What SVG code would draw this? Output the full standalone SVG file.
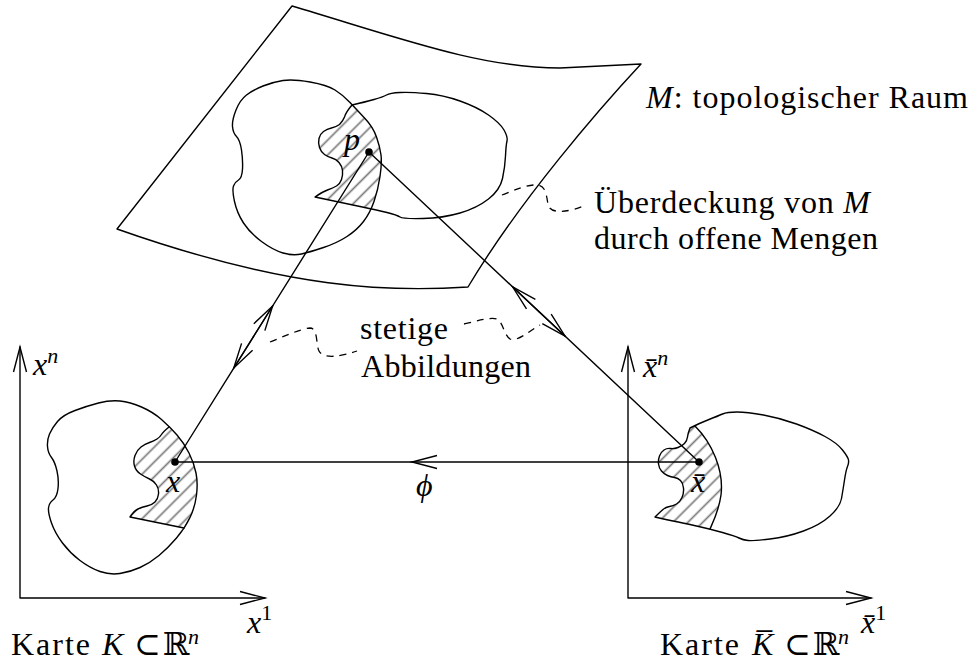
<svg xmlns="http://www.w3.org/2000/svg" width="974" height="662" viewBox="0 0 974 662">
<style>
.ln{fill:none;stroke:#000;stroke-width:1.4;stroke-linejoin:round;stroke-linecap:round}
.dash{fill:none;stroke:#000;stroke-width:1.3;stroke-dasharray:7 6}
.t{font-family:"Liberation Serif","DejaVu Serif",serif;font-size:32px;fill:#000}
.i{font-style:italic}
.sup{font-size:22px}
.dot{fill:#000}
</style>
<defs>
<marker id="arr" markerUnits="userSpaceOnUse" viewBox="-27 -8 29 16" refX="0" refY="0" markerWidth="29" markerHeight="16" orient="auto-start-reverse" overflow="visible">
<path d="M-25,-6.5 L0,0 L-25,6.5" fill="none" stroke="#000" stroke-width="1.4"/>
</marker>
<pattern id="hatch" patternUnits="userSpaceOnUse" width="10.5" height="10.5" patternTransform="rotate(-45)">
<line x1="0" y1="5.25" x2="10.5" y2="5.25" stroke="#7a7a7a" stroke-width="1.7"/>
</pattern>
<path id="setL" d="M283,80.5 Q293,79 310,82 Q327,85 335,90 Q343,95 350,102.5 Q357,110 365,118.5 Q373,127 376.5,137 Q380,147 381,155 Q382,163 380,176.5 Q378,190 374,201.5 Q370,213 363.5,221.5 Q357,230 347,236.5 Q337,243 323.5,247.5 Q310,252 301.5,254 Q293,256 283,253 Q273,250 261.5,241.5 Q250,233 243.5,223 Q237,213 234.5,201.5 Q232,190 233.5,186 Q235,182 238.5,180 Q242,178 242.5,169 Q243,160 241.5,150 Q240,140 236.5,136.5 Q233,133 232.5,126.5 Q232,120 236,110 Q240,100 246.5,95 Q253,90 263,86 Q273,82 283,80.5 Z"/>
<path id="setR" d="M352,105 Q365,102 374,99.5 Q383,97 386.5,95 Q390,93 400,92.5 Q410,92 426.5,93.5 Q443,95 460,101 Q477,107 488.5,115 Q500,123 504,130 Q508,137 507,141 Q506,145 505.5,156 Q505,167 502.5,178.5 Q500,190 488.5,199 Q477,208 460,213 Q443,218 423,218.5 Q403,219 400,217 Q397,215 387,212.5 Q377,210 360,206.5 Q343,203 315,197 Q322,192 327.5,190 Q333,188 336.5,186 Q340,184 341.5,179.5 Q343,175 342.5,170.5 Q342,166 339,162.5 Q336,159 332,158 Q328,157 324.5,154.5 Q321,152 319.5,147.5 Q318,143 319,138.5 Q320,134 323.5,131.5 Q327,129 331.5,128 Q336,127 339.5,124.5 Q343,121 344.5,117 Q346,112 352,105 Z"/>
<path id="blobK" d="M120,401 Q130,402 141.5,407 Q153,412 161.5,419.5 Q170,427 177,435 Q184,443 189,453 Q194,463 196,473 Q198,483 196.5,495 Q195,507 190,517.5 Q185,528 176.5,538 Q168,548 159,555.5 Q150,563 140,567.5 Q130,572 120,573.5 Q110,575 100,571.5 Q90,568 80,560.5 Q70,553 62.5,543 Q55,533 51.5,523 Q48,513 48.5,508 Q49,503 53,500 Q57,497 58,488.5 Q59,480 57,471 Q55,462 51.5,457.5 Q48,453 47.5,446.5 Q47,440 49.5,434 Q52,428 57.5,421.5 Q63,415 75,410.5 Q87,406 98.5,403 Q110,400 120,401 Z"/>
<path id="blobKb" d="M690,428 Q700,423 709,419.5 Q718,416 722.5,414 Q727,412 737,412 Q747,412 763.5,415 Q780,418 796.5,424 Q813,430 825,436.5 Q837,443 842.5,450 Q848,457 848.5,460 Q849,463 847.5,466.5 Q846,470 844.5,480 Q843,490 841.5,498.5 Q840,507 830,516 Q820,525 803.5,531 Q787,537 770,539 Q753,541 748,540.5 Q743,540 739,538 Q735,536 722.5,532.5 Q710,529 696.5,526 Q683,523 673,521 Q663,519 655,517 Q660,512 663,509.5 Q666,507 669.5,506.5 Q673,506 676.5,504 Q680,502 682,497.5 Q684,493 683.5,488 Q683,483 680.5,480.5 Q678,478 674.5,477.5 Q671,477 667.5,475.5 Q664,474 661.5,471 Q659,468 658.5,464 Q658,460 659.5,456 Q661,452 664,450 Q667,448 670.5,448.5 Q674,449 678,447.5 Q682,446 684.5,443.5 Q687,441 687.5,437 Q688,433 690,428 Z"/>
<clipPath id="clipL"><use href="#setL"/></clipPath>
<clipPath id="clipK"><use href="#blobK"/></clipPath>
<clipPath id="clipKb"><use href="#blobKb"/></clipPath>
</defs>
<rect width="974" height="662" fill="#fff"/>

<g id="surface-M">
<path class="ln" d="M292,6 C400,38 480,68 560,68 L641,64 C600,108 520,200 468,287 C390,292 290,290 117,229 L292,6 Z"/>
<text class="t" x="646" y="108" textLength="322"><tspan class="i">M</tspan>: topologischer Raum</text>
</g>

<g id="open-sets-M">
<use href="#setR" fill="url(#hatch)" clip-path="url(#clipL)"/>
<use href="#setL" class="ln"/>
<use href="#setR" class="ln"/>
<text class="t" x="594" y="213" textLength="276">Überdeckung von <tspan class="i">M</tspan></text>
<text class="t" x="594" y="249" textLength="284">durch offene Mengen</text>
</g>

<g id="chart-K">
<path d="M169,427 Q163,432 161.5,434.5 Q160,437 157,439 Q154,441 149.5,442.5 Q145,444 141,447 Q137,450 135,455.5 Q133,461 134.5,466 Q136,471 140.5,474 Q145,477 149.5,479 Q154,481 156.5,485 Q159,489 158.5,494 Q158,499 155,502 Q152,505 147,506 Q142,507 138,509 Q134,511 130,517 Q155,522 184,528 L200,530 L210,420 Z" fill="url(#hatch)" clip-path="url(#clipK)"/>
<use href="#blobK" class="ln"/>
<path class="ln" d="M169,427 Q163,432 161.5,434.5 Q160,437 157,439 Q154,441 149.5,442.5 Q145,444 141,447 Q137,450 135,455.5 Q133,461 134.5,466 Q136,471 140.5,474 Q145,477 149.5,479 Q154,481 156.5,485 Q159,489 158.5,494 Q158,499 155,502 Q152,505 147,506 Q142,507 138,509 Q134,511 130,517 Q155,522 184,528"/>
<path class="ln" d="M20,347 L20,598 L265,598" marker-start="url(#arr)" marker-end="url(#arr)"/>
<text class="t i" x="33" y="375">x<tspan class="sup" dy="-12">n</tspan></text>
<text class="t i" x="247" y="633">x<tspan class="sup" dy="-13" font-style="normal">1</tspan></text>
<text class="t" y="655"><tspan x="11" textLength="79">Karte</tspan><tspan x="102" class="i">K</tspan><tspan x="134">⊂</tspan><tspan x="163">ℝ</tspan><tspan x="188" dy="-11" class="i sup">n</tspan></text>
</g>

<g id="chart-Kbar">
<path d="M690,428 L695,426 C712,443 724,470 721,495 C719,510 714,520 710,529 L655,517 Q660,512 663,509.5 Q666,507 669.5,506.5 Q673,506 676.5,504 Q680,502 682,497.5 Q684,493 683.5,488 Q683,483 680.5,480.5 Q678,478 674.5,477.5 Q671,477 667.5,475.5 Q664,474 661.5,471 Q659,468 658.5,464 Q658,460 659.5,456 Q661,452 664,450 Q667,448 670.5,448.5 Q674,449 678,447.5 Q682,446 684.5,443.5 Q687,441 687.5,437 Q688,433 690,428 Z" fill="url(#hatch)" clip-path="url(#clipKb)"/>
<use href="#blobKb" class="ln"/>
<path class="ln" d="M695,426 C712,443 724,470 721,495 C719,510 714,520 710,529"/>
<path class="ln" d="M628,347 L628,598 L871,598" marker-start="url(#arr)" marker-end="url(#arr)"/>
<text class="t i" x="643" y="377">x̄<tspan class="sup" dy="-12">n</tspan></text>
<text class="t i" x="861" y="633">x̄<tspan class="sup" dy="-13" font-style="normal">1</tspan></text>
<text class="t" y="655"><tspan x="660" textLength="79">Karte</tspan><tspan x="752" class="i">K̅</tspan><tspan x="784">⊂</tspan><tspan x="813">ℝ</tspan><tspan x="838" dy="-11" class="i sup">n</tspan></text>
</g>

<g id="connectors">
<path class="ln" d="M175,462 L369,152"/>
<path class="ln" d="M253.2,337 L272.6,306" marker-end="url(#arr)"/>
<path class="ln" d="M253.2,337 L233.8,368" marker-end="url(#arr)"/>
<path class="ln" d="M369,152 L699,462"/>
<path class="ln" d="M538.8,311.5 L512.7,287" marker-end="url(#arr)"/>
<path class="ln" d="M538.8,311.5 L565,336" marker-end="url(#arr)"/>
<path class="ln" d="M699,462 L412,462" marker-end="url(#arr)"/>
<path class="ln" d="M412,462 L175,462"/>
<path class="dash" d="M502,195 C515,190 528,184 538,185 C548,187 546,200 549,207 C553,214 570,212 586,205"/>
<path class="dash" d="M270,342 C285,336 300,329 310,328 C318,328 316,345 319,351 C323,359 340,357 357,351"/>
<path class="dash" d="M464,324 C477,321 490,317 497,319 C503,322 504,335 510,339 C517,342 528,332 540,325"/>
<text class="t i" x="416" y="496">ϕ</text>
<text class="t" x="360" y="339" textLength="88">stetige</text>
<text class="t" x="361" y="377" textLength="170">Abbildungen</text>
</g>

<g id="point-p"><circle class="dot" cx="369" cy="152" r="3.8"/><text class="t i" x="344" y="150">p</text></g>
<g id="point-x"><circle class="dot" cx="175" cy="462" r="3.8"/><text class="t i" x="166" y="492">x</text></g>
<g id="point-xbar"><circle class="dot" cx="699" cy="462" r="3.8"/><text class="t i" x="691" y="492">x̄</text></g>
</svg>
